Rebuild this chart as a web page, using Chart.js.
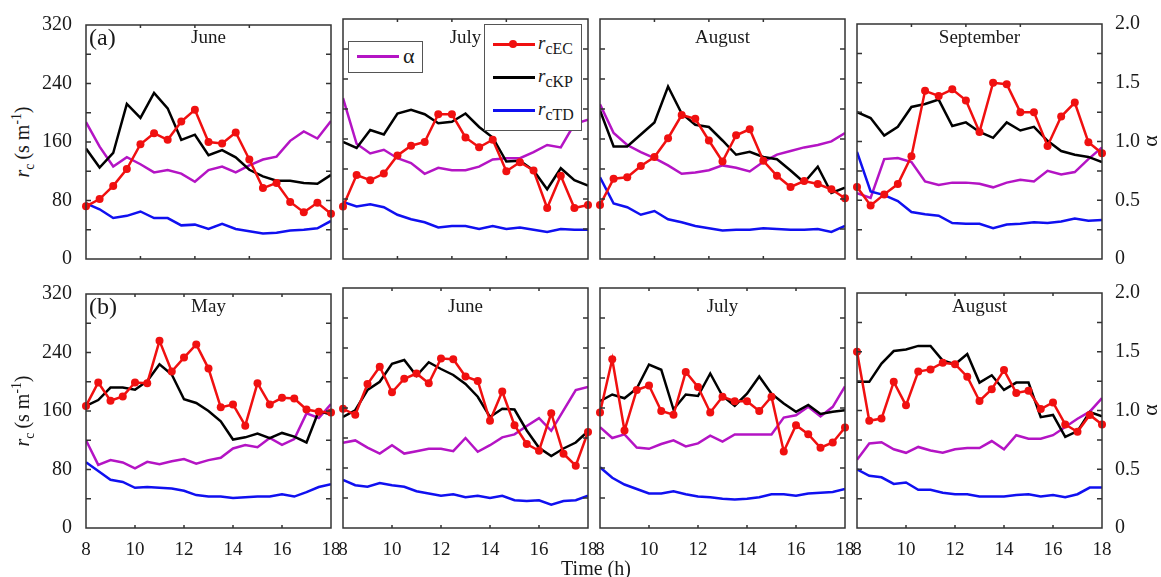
<!DOCTYPE html>
<html>
<head>
<meta charset="utf-8">
<script src="https://cdn.jsdelivr.net/npm/chart.js@4"></script>
<style>
  body { margin: 0; background: #fff; width: 1161px; height: 577px; position: relative; overflow: hidden;
         font-family: 'Liberation Serif', 'Times New Roman', serif; color: #1a1a1a; }
  canvas { position: absolute; }
  .t { position: absolute; white-space: nowrap; line-height: 1; }
  .rot { transform: translate(-50%, -50%) rotate(-90deg); }
  .box { position: absolute; background: #fff; border: 1px solid #555; }
  .ln { position: absolute; height: 3px; }
  .dot { position: absolute; width: 8px; height: 8px; border-radius: 50%; background: #f01010; }
  sub, sup { font-size: 68%; line-height: 0; }
  .leg sub { font-size: 84%; }
</style>
</head>
<body>
<script>
'use strict';

// half-hour steps; top row runs 8-17 h, bottom row 8-18 h
const hoursA = [8, 8.5, 9, 9.5, 10, 10.5, 11, 11.5, 12, 12.5, 13, 13.5, 14, 14.5, 15, 15.5, 16, 16.5, 17];
const hoursB = [8, 8.5, 9, 9.5, 10, 10.5, 11, 11.5, 12, 12.5, 13, 13.5, 14, 14.5, 15, 15.5, 16, 16.5, 17, 17.5, 18];
const monthsA = ['June', 'July', 'August', 'September'];
const monthsB = ['May', 'June', 'July', 'August'];
const rowTags = ['(a)', '(b)'];

// row (a)
const ecJunA = [72, 82, 100, 123, 157, 172, 163, 188, 204, 160, 158, 173, 136, 97, 104, 78, 64, 77, 62];
const kpJunA = [151, 125, 145, 212, 193, 227, 206, 163, 170, 142, 149, 139, 122, 113, 107, 107, 104, 103, 115];
const tdJunA = [76, 68, 56, 59, 65, 56, 56, 46, 47, 41, 48, 41, 38, 35, 36, 39, 40, 42, 52];
const alJunA = [1.17, 0.96, 0.79, 0.87, 0.81, 0.74, 0.76, 0.73, 0.66, 0.76, 0.79, 0.74, 0.80, 0.85, 0.875, 1.01, 1.09, 1.03, 1.18];

const ecJulA = [70, 112, 105, 114, 138, 151, 156, 193, 193, 162, 149, 159, 117, 129, 118, 68, 111, 68, 72];
const kpJulA = [156, 148, 172, 166, 194, 199, 193, 181, 183, 194, 176, 162, 130, 131, 118, 93, 121, 105, 98];
const tdJulA = [76, 70, 73, 69, 59, 53, 49, 42, 44, 44, 40, 44, 40, 42, 39, 36, 40, 39, 39];
const alJulA = [1.34, 0.96, 0.88, 0.91, 0.84, 0.80, 0.71, 0.76, 0.74, 0.74, 0.77, 0.83, 0.84, 0.84, 0.89, 0.95, 0.93, 1.125, 1.16];

const ecAugA = [72, 107, 109, 124, 136, 161, 192, 187, 158, 130, 165, 173, 131, 111, 96, 104, 100, 93, 81];
const kpAugA = [198, 150, 150, 166, 182, 230, 194, 179, 176, 158, 139, 143, 136, 133, 118, 102, 123, 88, 95];
const tdAugA = [109, 74, 69, 59, 64, 53, 49, 44, 41, 38, 39, 39, 41, 40, 39, 39, 40, 36, 44];
const alAugA = [1.29, 1.05, 0.95, 0.89, 0.84, 0.78, 0.71, 0.72, 0.74, 0.78, 0.76, 0.73, 0.81, 0.87, 0.90, 0.93, 0.95, 0.98, 1.05];

const ecSepA = [98, 73, 88, 102, 140, 229, 222, 231, 216, 173, 240, 238, 200, 200, 154, 194, 213, 159, 144];
const kpSepA = [200, 192, 168, 180, 207, 211, 217, 181, 186, 173, 165, 186, 175, 180, 161, 147, 142, 139, 132];
const tdSepA = [146, 92, 87, 79, 64, 61, 59, 49, 48, 48, 42, 47, 48, 50, 49, 51, 55, 52, 53];
const alSepA = [0.56, 0.52, 0.85, 0.86, 0.825, 0.66, 0.63, 0.65, 0.65, 0.64, 0.61, 0.65, 0.675, 0.66, 0.75, 0.72, 0.74, 0.85, 0.95];

// row (b)
const ecMayB = [167, 199, 174, 180, 199, 198, 256, 214, 233, 251, 218, 165, 169, 140, 198, 169, 178, 177, 162, 159, 158];
const kpMayB = [167, 175, 192, 192, 189, 201, 224, 210, 176, 171, 160, 146, 121, 124, 129, 123, 130, 125, 117, 160, 155];
const tdMayB = [90, 78, 66, 63, 55, 56, 55, 54, 51, 45, 43, 43, 41, 42, 43, 43, 46, 43, 49, 56, 60];
const alMayB = [0.75, 0.54, 0.58, 0.56, 0.51, 0.565, 0.545, 0.57, 0.59, 0.55, 0.58, 0.60, 0.68, 0.71, 0.69, 0.77, 0.71, 0.76, 0.98, 0.94, 1.06];

const ecJunB = [159, 151, 192, 215, 181, 199, 206, 193, 226, 225, 202, 196, 143, 182, 137, 112, 103, 153, 99, 83, 128];
const kpJunB = [148, 157, 184, 195, 219, 224, 203, 221, 212, 204, 192, 175, 148, 159, 158, 130, 107, 96, 106, 114, 129];
const tdJunB = [64, 57, 55, 60, 57, 55, 49, 46, 43, 45, 41, 43, 40, 43, 37, 36, 37, 31, 36, 37, 43];
const alJunB = [0.71, 0.73, 0.67, 0.62, 0.69, 0.62, 0.64, 0.66, 0.66, 0.64, 0.75, 0.635, 0.69, 0.755, 0.78, 0.85, 0.915, 0.81, 0.98, 1.15, 1.175];

const ecJulB = [154, 225, 130, 184, 190, 156, 151, 208, 188, 154, 175, 169, 169, 156, 175, 102, 137, 125, 107, 114, 134];
const kpJulB = [169, 178, 173, 186, 218, 211, 158, 178, 176, 206, 176, 163, 179, 202, 179, 166, 155, 164, 152, 155, 157];
const tdJulB = [81, 67, 58, 52, 46, 46, 49, 45, 42, 41, 39, 38, 39, 41, 45, 45, 43, 46, 47, 48, 52];
const alJulB = [0.84, 0.75, 0.78, 0.67, 0.66, 0.70, 0.73, 0.68, 0.705, 0.77, 0.72, 0.78, 0.78, 0.78, 0.78, 0.92, 0.94, 1.01, 0.93, 1.01, 1.18];

const ecAugB = [240, 146, 149, 199, 167, 213, 216, 225, 223, 206, 173, 189, 215, 184, 187, 162, 171, 141, 131, 154, 141];
const kpAugB = [199, 199, 224, 241, 243, 248, 248, 228, 223, 237, 198, 208, 188, 198, 198, 151, 154, 124, 132, 158, 152];
const tdAugB = [80, 71, 69, 60, 62, 52, 52, 48, 46, 46, 43, 43, 43, 45, 46, 43, 45, 42, 46, 55, 55];
const alAugB = [0.58, 0.72, 0.73, 0.67, 0.64, 0.69, 0.66, 0.64, 0.67, 0.68, 0.68, 0.74, 0.67, 0.79, 0.76, 0.76, 0.79, 0.86, 0.93, 0.99, 1.105];

const RED = '#f01010', BLACK = '#000000', BLUE = '#1010f0', MAG = '#b414c4';
const FONT = "'Liberation Serif', 'Times New Roman', serif";

// panel geometry in page pixels
const panelLefts = [86, 343, 600, 857];
const rowTops = [19, 288];
const PW = 245, PH = 240;
const PADL = 45, PADT = 12, PADB = 36;

function pts(hours, vals) {
  return vals.map((v, i) => ({ x: hours[i], y: v }));
}

// box + inward tick marks (matlab look)
const framePlugin = {
  id: 'frame',
  afterDraw(chart) {
    const ctx = chart.ctx, a = chart.chartArea;
    const xs = chart.scales.x, ys = chart.scales.y;
    ctx.save();
    ctx.strokeStyle = '#333';
    ctx.lineWidth = 1.5;
    ctx.beginPath();
    xs.ticks.forEach(t => {
      const px = xs.getPixelForValue(t.value);
      if (px <= a.left + 1 || px >= a.right - 1) return;
      ctx.moveTo(px, a.bottom); ctx.lineTo(px, a.bottom - 3);
      ctx.moveTo(px, a.top); ctx.lineTo(px, a.top + 3);
    });
    ys.ticks.forEach(t => {
      const py = ys.getPixelForValue(t.value);
      if (py <= a.top + 1 || py >= a.bottom - 1) return;
      ctx.moveTo(a.left, py); ctx.lineTo(a.left + 5, py);
      ctx.moveTo(a.right, py); ctx.lineTo(a.right - 5, py);
    });
    ctx.stroke();
    ctx.strokeRect(a.left, a.top, a.right - a.left, a.bottom - a.top);
    ctx.restore();
  }
};

function makePanel(row, col, hours, ec, kp, td, al) {
  const cv = document.createElement('canvas');
  cv.width = PW + 2 * PADL;
  cv.height = PH + PADT + PADB;
  cv.style.left = (panelLefts[col] - PADL) + 'px';
  cv.style.top = (rowTops[row] - PADT) + 'px';
  document.body.appendChild(cv);

  new Chart(cv, {
    type: 'line',
    data: {
      datasets: [
        { label: 'rcEC', data: pts(hours, ec), borderColor: RED, backgroundColor: RED,
          pointRadius: 4, pointBorderWidth: 0, borderWidth: 2.5, yAxisID: 'y', clip: 8 },
        { label: 'rcKP', data: pts(hours, kp), borderColor: BLACK, pointRadius: 0, borderWidth: 2.5, yAxisID: 'y' },
        { label: 'rcTD', data: pts(hours, td), borderColor: BLUE, pointRadius: 0, borderWidth: 2.5, yAxisID: 'y' },
        { label: 'α', data: pts(hours, al), borderColor: MAG, pointRadius: 0, borderWidth: 2.5, yAxisID: 'y1' }
      ]
    },
    options: {
      responsive: false,
      animation: false,
      layout: { padding: { top: PADT, left: 0, right: 0, bottom: 0 } },
      plugins: { legend: { display: false }, tooltip: { enabled: false } },
      elements: { line: { tension: 0 } },
      scales: {
        x: {
          type: 'linear', min: 8, max: row === 0 ? 17 : 18,
          grid: { display: false }, border: { display: false },
          ticks: { stepSize: 2, display: row === 1, font: { family: FONT, size: 19 }, color: '#1a1a1a',
                   padding: 3, maxRotation: 0, autoSkip: false },
          afterFit: s => { s.height = PADB; }
        },
        y: {
          position: 'left', min: 0, max: 320,
          grid: { display: false }, border: { display: false },
          ticks: { stepSize: 40, display: col === 0, font: { family: FONT, size: 20 }, color: '#1a1a1a', padding: 6,
                   callback: v => (v % 80 === 0 ? v : '') },
          afterFit: s => { s.width = PADL; }
        },
        y1: {
          position: 'right', min: 0, max: 2,
          grid: { display: false }, border: { display: false },
          ticks: { stepSize: 0.25, display: col === 3, font: { family: FONT, size: 20 }, color: '#1a1a1a', padding: 5,
                   callback: v => (Math.round(v * 4) % 2 === 0 ? (v === 0 ? '0' : v.toFixed(1)) : '') },
          afterFit: s => { s.width = PADL; }
        }
      }
    },
    plugins: [framePlugin]
  });
}

makePanel(0, 0, hoursA, ecJunA, kpJunA, tdJunA, alJunA);
makePanel(0, 1, hoursA, ecJulA, kpJulA, tdJulA, alJulA);
makePanel(0, 2, hoursA, ecAugA, kpAugA, tdAugA, alAugA);
makePanel(0, 3, hoursA, ecSepA, kpSepA, tdSepA, alSepA);
makePanel(1, 0, hoursB, ecMayB, kpMayB, tdMayB, alMayB);
makePanel(1, 1, hoursB, ecJunB, kpJunB, tdJunB, alJunB);
makePanel(1, 2, hoursB, ecJulB, kpJulB, tdJulB, alJulB);
makePanel(1, 3, hoursB, ecAugB, kpAugB, tdAugB, alAugB);

// text and legends as html on top
function addText(html, css) {
  const d = document.createElement('div');
  d.className = 't';
  d.innerHTML = html;
  Object.assign(d.style, css);
  document.body.appendChild(d);
  return d;
}

[monthsA, monthsB].forEach((months, r) => {
  months.forEach((m, c) => {
    addText(m, { left: (panelLefts[c] + PW / 2) + 'px', top: (rowTops[r] + 8) + 'px',
                 fontSize: '19px', transform: 'translateX(-50%)' });
  });
  addText(rowTags[r], { left: '89px', top: (rowTops[r] + 6) + 'px', fontSize: '24px' });
  const yl = addText('<i>r</i><sub>c</sub>&thinsp;(s m<sup>-1</sup>)',
                     { left: '22px', top: (rowTops[r] + 123) + 'px', fontSize: '20px' });
  yl.classList.add('rot');
  const al = addText('α', { left: '1150px', top: (rowTops[r] + 122) + 'px', fontSize: '22px' });
  al.classList.add('rot');
});
addText('Time (h)', { left: '596px', top: '568px', fontSize: '20px', transform: 'translate(-50%, -50%)' });

// legend boxes
function addBox(l, t, w, h) {
  const b = document.createElement('div');
  b.className = 'box';
  Object.assign(b.style, { left: l + 'px', top: t + 'px', width: w + 'px', height: h + 'px' });
  document.body.appendChild(b);
}
function addLine(l, t, w, color) {
  const d = document.createElement('div');
  d.className = 'ln';
  Object.assign(d.style, { left: l + 'px', top: (t - 1.5) + 'px', width: w + 'px', background: color });
  document.body.appendChild(d);
}

addBox(348, 41, 73, 30);
addLine(357, 56, 42, MAG);
addText('α', { left: '403px', top: '45px', fontSize: '22px' });

addBox(484, 24, 96, 105);
addLine(493, 44, 42, RED);
const dot = document.createElement('div');
dot.className = 'dot';
Object.assign(dot.style, { left: '509px', top: '40px' });
document.body.appendChild(dot);
addText('<i>r</i><sub>cEC</sub>', { left: '538px', top: '33px', fontSize: '19px' }).classList.add('leg');
addLine(493, 77, 42, BLACK);
addText('<i>r</i><sub>cKP</sub>', { left: '538px', top: '66px', fontSize: '19px' }).classList.add('leg');
addLine(493, 110, 42, BLUE);
addText('<i>r</i><sub>cTD</sub>', { left: '538px', top: '99px', fontSize: '19px' }).classList.add('leg');
</script>
</body>
</html>
